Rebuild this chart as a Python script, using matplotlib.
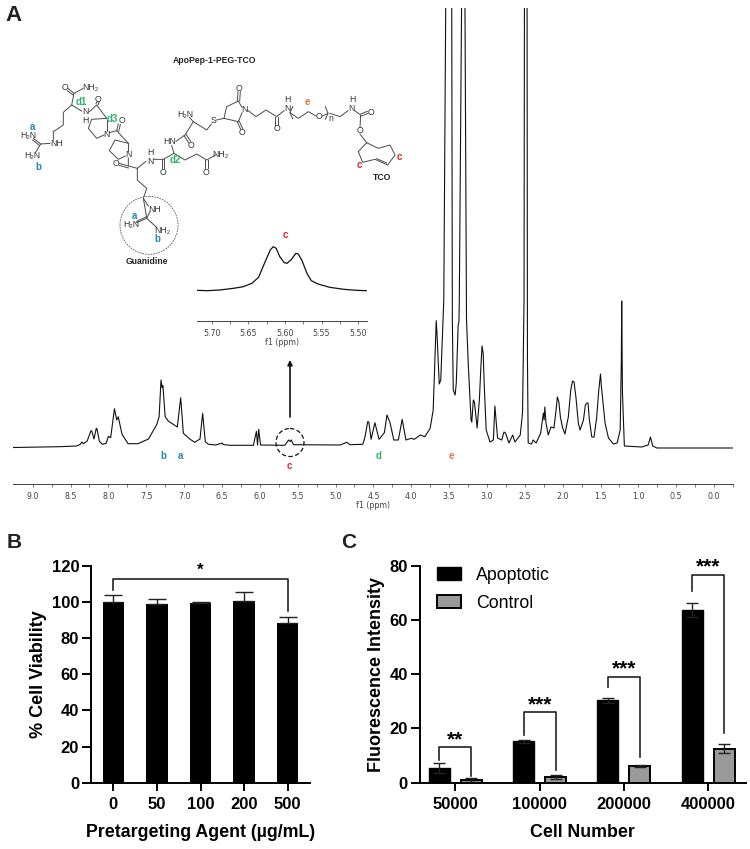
import numpy as np
import matplotlib
matplotlib.use("Agg")
import matplotlib.pyplot as plt
from matplotlib.patches import Circle

W, H = 750, 849

# main 1H NMR trace (ppm, height above the axis in px)
nmr_ppm = [9.26, 8.64, 8.42, 8.37, 8.35, 8.33, 8.28, 8.23, 8.22, 8.19, 8.16, 8.15, 8.12, 8.08, 8.03, 8.00, 7.97,
           7.92, 7.89, 7.87, 7.82, 7.74, 7.61, 7.47, 7.36, 7.33, 7.305, 7.29, 7.28, 7.25, 7.21, 7.09, 7.045, 7.01,
           6.92, 6.86, 6.79, 6.755, 6.72, 6.68, 6.58, 6.495, 6.485, 6.39, 6.085, 6.045, 6.03, 6.015, 5.99, 5.67,
           5.62, 5.60, 5.585, 5.555, 4.94, 4.85, 4.81, 4.64, 4.61, 4.575, 4.56, 4.53, 4.48, 4.425, 4.355, 4.32,
           4.28, 4.23, 4.17, 4.12, 4.07, 4.00, 3.96, 3.88, 3.82, 3.75, 3.71, 3.67, 3.66, 3.63, 3.61, 3.57, 3.545,
           3.505, 3.465, 3.457, 3.445, 3.42, 3.405, 3.38, 3.37, 3.365, 3.335, 3.315, 3.29, 3.27, 3.245, 3.21, 3.20,
           3.18, 3.165, 3.13, 3.10, 3.08, 3.065, 3.05, 3.035, 3.01, 2.96, 2.915, 2.895, 2.88, 2.86, 2.805, 2.775, 2.755, 2.71,
           2.66, 2.63, 2.56, 2.53, 2.51, 2.505, 2.49, 2.47, 2.465, 2.455, 2.41, 2.39, 2.35, 2.29, 2.255, 2.245,
           2.235, 2.22, 2.19, 2.155, 2.115, 2.087, 2.07, 2.05, 2.03, 2.00, 1.97, 1.925, 1.893, 1.87, 1.85, 1.823, 1.793,
           1.77, 1.725, 1.70, 1.68, 1.665, 1.647, 1.615, 1.585,
           1.55, 1.523, 1.50, 1.49, 1.47, 1.44, 1.395, 1.33, 1.28, 1.24, 1.225, 1.22, 1.21, 1.185, 0.955, 0.87, 0.84, 0.81, 0.755,
           0.58, -0.25]
nmr_height = [36.5, 37.3, 38, 39.7, 42, 40.3, 43, 53.3, 53, 45, 55.7, 55, 43, 39.7, 40.7, 47.7, 46.3,
              75.3, 64, 67.3, 49.7, 40.3, 40.3, 45, 59.7, 67.3, 104, 96.3, 98.3, 67.3, 63, 57, 86.3, 50.7,
              44.7, 41.7, 45, 70.7, 42.3, 39.7, 39, 41, 39.5, 38.7, 38.7, 52.7, 39, 54.7, 39, 38.7,
              44, 42.5, 44, 39.3, 39, 41.7, 39.3, 39.7, 47.3, 62.3, 62, 44.7, 61.3, 44.7, 51.3, 69,
              61.3, 44, 44, 64.7, 44, 45.7, 44.7, 49, 47.3, 55.7, 74, 163.3, 150.7, 100, 104, 184, 476,
              800, 476, 164, 94, 89, 101, 159, 162, 184, 476, 800, 476, 164, 117, 64, 62,
              84, 82, 56, 84, 117, 138, 131, 97, 54, 42, 44, 78, 64, 46, 44, 52, 51, 41,
              49, 42, 49, 71, 184, 476, 1000, 476, 124, 41, 40, 44, 41, 51, 71, 64,
              77, 61, 49, 57, 56, 74, 87, 82, 67, 56, 50, 67, 94, 103, 102, 85.7, 61,
              54, 64, 79, 81, 81, 64, 47, 47,
              67, 94, 110, 99, 84, 61, 46, 40, 41, 54, 124, 183, 91, 38, 37, 39, 47, 38, 36,
              36, 36]

# inset, the c multiplet
inset_ppm = [5.72, 5.707, 5.689, 5.670, 5.657, 5.645, 5.636, 5.627, 5.620, 5.616, 5.612, 5.607, 5.601, 5.597,
             5.591, 5.585, 5.582, 5.577, 5.570, 5.564, 5.555, 5.539, 5.520, 5.502, 5.489]
inset_height = [30.7, 30.3, 31, 32.7, 34.3, 37.7, 43.7, 59.3, 71, 74.3, 72.7, 64.3, 58.3, 57.7,
                61.7, 67.7, 67, 61, 47.7, 40.3, 37, 33.7, 31.7, 30.7, 30.3]

# panel B
doses = ["0", "50", "100", "200", "500"]
viability = [100, 99, 99.5, 100.7, 88.3]
viability_err = [3.7, 2.5, 0.5, 4.8, 3.2]

# panel C
cell_numbers = ["50000", "100000", "200000", "400000"]
apoptotic = [5.5, 15.3, 30.4, 63.7]
apoptotic_err = [1.8, 0.5, 0.9, 2.7]
control = [1.0, 2.1, 6.3, 12.6]
control_err = [0.7, 0.9, 0.4, 1.6]
sig_labels = ["**", "***", "***", "***"]
bracket_top = [13.3, 26.1, 39.1, 76.6]
bracket_left = [8.4, 17.6, 35.4, 70.8]
bracket_right = [2.3, 4.7, 9.6, 18.3]
star_y = [15.8, 28.6, 41.9, 79.5]

BLUE = "#1b8db5"
GREEN = "#2fb36a"
RED = "#e8202a"
ORANGE = "#e8763a"
BOND = "#4a4a4a"

plt.rcParams["font.family"] = ["Liberation Sans", "DejaVu Sans"]

fig = plt.figure(figsize=(W / 100, H / 100), dpi=100)


def axes_px(x0, y0, x1, y1):
    return fig.add_axes([x0 / W, 1 - y1 / H, (x1 - x0) / W, (y1 - y0) / H])


def style_nmr(ax, major, minor, labels_fmt):
    for s in ["top", "left", "right"]:
        ax.spines[s].set_visible(False)
    ax.spines["bottom"].set_linewidth(0.7)
    ax.spines["bottom"].set_color("#444444")
    ax.patch.set_alpha(0)
    ax.set_yticks([])
    ax.set_xticks(major)
    ax.set_xticklabels([labels_fmt % m for m in major], family="DejaVu Sans", fontsize=5.7, color="#444444")
    ax.set_xticks(minor, minor=True)
    ax.tick_params(axis="x", which="both", length=2, width=0.5, color="#444444", pad=3.5)


# spectrum
ax_nmr = axes_px(13, 8, 733, 484)
ax_nmr.plot(nmr_ppm, nmr_height, color="#111111", lw=0.8, solid_joinstyle="round")
ax_nmr.set_xlim(9.26, -0.25)
ax_nmr.set_ylim(0, 476)
style_nmr(ax_nmr, np.arange(9.0, -0.1, -0.5), np.arange(9.0, -0.3, -0.25), "%.1f")

# inset
ax_ins = axes_px(197, 221, 367, 321)
ax_ins.plot(inset_ppm, inset_height, color="#111111", lw=0.9)
ax_ins.set_xlim(5.72, 5.488)
ax_ins.set_ylim(0, 100)
style_nmr(ax_ins, [5.70, 5.65, 5.60, 5.55, 5.50], np.arange(5.70, 5.49, -0.025), "%.2f")

# panel B
ax_b = axes_px(91, 565.7, 310, 782.7)
xb = np.arange(len(doses))
ax_b.bar(xb, viability, width=0.49, color="black")
ax_b.errorbar(xb, viability, yerr=[np.zeros(len(doses)), viability_err], fmt="none",
              ecolor="#222222", elinewidth=1, capsize=6.5, capthick=1)
ax_b.plot([0, 0, 4, 4], [106.5, 112.5, 112.5, 95], color="#222222", lw=1.2, clip_on=False)
ax_b.text(2, 113.5, "*", ha="center", va="bottom", fontsize=12, fontweight="bold")
ax_b.set_xlim(-0.514, 4.51)
ax_b.set_ylim(0, 120)
ax_b.set_yticks(range(0, 121, 20))
ax_b.set_xticks(xb)
ax_b.set_xticklabels(doses)
ax_b.set_xlabel("Pretargeting Agent (µg/mL)", fontsize=12.8, fontweight="bold", labelpad=9)
ax_b.set_ylabel("% Cell Viability", fontsize=13, fontweight="bold", labelpad=3)

# panel C
ax_c = axes_px(419.6, 565.7, 745.5, 782.7)
xc = np.arange(len(cell_numbers))
offset = 0.19
bars_a = ax_c.bar(xc - offset, apoptotic, width=0.25, color="black", edgecolor="black", label="Apoptotic")
bars_c = ax_c.bar(xc + offset, control, width=0.25, color="#9a9a9a", edgecolor="black", linewidth=1.4, label="Control")
ax_c.errorbar(xc - offset, apoptotic, yerr=apoptotic_err, fmt="none", ecolor="#222222",
              elinewidth=1, capsize=4, capthick=1)
ax_c.errorbar(xc + offset, control, yerr=control_err, fmt="none", ecolor="#222222",
              elinewidth=1, capsize=4.5, capthick=1)
for i in xc:
    ax_c.plot([i - offset, i - offset, i + offset, i + offset],
              [bracket_left[i], bracket_top[i], bracket_top[i], bracket_right[i]],
              color="#222222", lw=1.2, clip_on=False)
    ax_c.text(i, star_y[i], sig_labels[i], ha="center", va="center", fontsize=15, fontweight="bold", clip_on=False)
ax_c.set_xlim(-0.426, 3.444)
ax_c.set_ylim(0, 80)
ax_c.set_yticks(range(0, 81, 20))
ax_c.set_xticks(xc)
ax_c.set_xticklabels(cell_numbers)
ax_c.set_xlabel("Cell Number", fontsize=12.8, fontweight="bold", labelpad=9)
ax_c.set_ylabel("Fluorescence Intensity", fontsize=13, fontweight="bold", labelpad=3)
ax_c.legend(handles=[bars_a, bars_c], loc="upper left", bbox_to_anchor=(0.053, 0.995), frameon=False,
            fontsize=12.8, handlelength=1.38, handleheight=0.7, handletextpad=0.84, labelspacing=0.62,
            borderaxespad=0, borderpad=0)

for ax in (ax_b, ax_c):
    ax.spines["top"].set_visible(False)
    ax.spines["right"].set_visible(False)
    ax.spines["left"].set_linewidth(1.4)
    ax.spines["bottom"].set_linewidth(1.4)
    ax.patch.set_alpha(0)
    ax.tick_params(axis="x", length=6, width=1.4, pad=4, labelsize=12)
    ax.tick_params(axis="y", length=6.5, width=1.4, pad=2, labelsize=12)
    for t in ax.get_xticklabels() + ax.get_yticklabels():
        t.set_fontweight("bold")

# overlay in picture pixels for the drawn structure and annotations
ov = fig.add_axes([0, 0, 1, 1], zorder=10)
ov.set_xlim(0, W)
ov.set_ylim(H, 0)
ov.axis("off")

# skeleton of the molecule, traced at 3x scale
bonds = [
    [(205, 266), (222, 280), (248, 266)], [(202, 272), (219, 285)], [(222, 280), (215, 315), (245, 333)],
    [(215, 315), (190, 337), (190, 375), (160, 395), (160, 420)], [(150, 430), (122, 432), (100, 415)],
    [(118, 436), (98, 420)], [(122, 432), (108, 455)],
    [(268, 335), (290, 315), (320, 355)], [(288, 310), (293, 304)], [(294, 314), (298, 306)],
    [(320, 355), (275, 358), (265, 385), (290, 415), (312, 405)], [(320, 360), (320, 392)],
    [(328, 398), (350, 392), (385, 430)], [(350, 392), (355, 372)], [(356, 394), (361, 374)],
    [(385, 430), (345, 420), (328, 452), (355, 478), (376, 468)], [(385, 430), (385, 452)],
    [(385, 474), (385, 498), (358, 490)], [(385, 504), (358, 496)], [(385, 498), (412, 505), (438, 484)],
    [(412, 505), (412, 540), (440, 565), (430, 595), (445, 618)],
    [(462, 478), (490, 478), (522, 460), (515, 437)], [(486, 478), (486, 505)], [(493, 478), (493, 505)],
    [(522, 460), (555, 480), (590, 462), (620, 480), (648, 464)], [(616, 480), (616, 505)], [(623, 480), (623, 505)],
    [(528, 424), (555, 405), (580, 365), (568, 352)], [(552, 407), (566, 428)], [(558, 403), (572, 424)],
    [(580, 365), (620, 390), (634, 372)], [(650, 360), (672, 355)],
    [(672, 355), (680, 320), (715, 303), (726, 322)], [(672, 355), (715, 365), (726, 338)],
    [(712, 303), (714, 275)], [(719, 303), (721, 275)], [(712, 366), (722, 388)], [(718, 364), (728, 386)],
    [(742, 330), (768, 350), (798, 330), (830, 350), (852, 332)], [(826, 350), (826, 376)], [(833, 350), (833, 376)],
    [(870, 338), (895, 355), (925, 335), (948, 348)], [(968, 348), (984, 340)],
    [(990, 340), (1020, 350), (1044, 332)], [(1064, 332), (1082, 345), (1080, 382)],
    [(1082, 342), (1102, 334)], [(1084, 348), (1104, 340)],
    [(1080, 402), (1100, 428), (1135, 445), (1170, 435), (1185, 465), (1163, 495), (1125, 478),
     (1088, 487), (1075, 455), (1100, 428)], [(1160, 489), (1130, 476)],
    [(430, 595), (440, 652)], [(450, 635), (440, 655), (410, 668)], [(438, 651), (410, 664)], [(440, 655), (470, 682)],
    [(878, 320), (870, 338), (878, 356)], [(976, 320), (984, 340), (976, 358)],
]
for b in bonds:
    pts = np.array(b) / 3
    ov.plot(pts[:, 0], pts[:, 1], color=BOND, lw=0.7)

atoms = [("O", 195, 262), ("NH₂", 272, 262), ("N", 257, 334), ("H", 257, 360), ("O", 295, 298), ("H₂N", 85, 405),
         ("NH", 170, 430), ("H₂N", 98, 467), ("O", 366, 360), ("N", 320, 402), ("N", 385, 463), ("O", 348, 490),
         ("N", 452, 484), ("H", 450, 456), ("NH", 465, 627), ("H₂N", 395, 672), ("NH₂", 488, 690), ("O", 490, 516),
         ("HN", 510, 423), ("O", 573, 436), ("H₂N", 555, 342), ("S", 641, 360), ("O", 618, 516), ("NH₂", 662, 462),
         ("O", 718, 265), ("O", 727, 397), ("N", 733, 328), ("O", 830, 386), ("H", 862, 298), ("N", 862, 326),
         ("O", 958, 348), ("n", 993, 355), ("H", 1058, 298), ("N", 1055, 326), ("O", 1112, 338), ("O", 1080, 392)]
for s, x, y in atoms:
    ov.text(x / 3, y / 3, s, ha="center", va="center", fontsize=6.3, color="#333333")

peak_tags = [("a", 97, 380, BLUE), ("b", 114, 500, BLUE), ("d1", 243, 306, GREEN), ("d3", 336, 358, GREEN),
             ("d2", 527, 480, GREEN), ("a", 402, 648, BLUE), ("b", 472, 716, BLUE), ("e", 921, 305, ORANGE),
             ("c", 1078, 495, RED), ("c", 1199, 470, RED), ("c", 856, 705, RED)]
for s, x, y, c in peak_tags:
    ov.text(x / 3, y / 3, s, ha="center", va="center", fontsize=7, fontweight="bold", color=c)

ov.text(215, 60.3, "ApoPep-1-PEG-TCO", ha="center", va="center", fontsize=6.2, fontweight="bold", color="#222222")
ov.text(147.3, 262, "Guanidine", ha="center", va="center", fontsize=6.2, fontweight="bold", color="#222222")
ov.text(381.7, 177.3, "TCO", ha="center", va="center", fontsize=6.2, fontweight="bold", color="#222222")
ov.add_patch(Circle((149, 225.3), 29, fill=False, ec="#555555", lw=0.6, ls=(0, (2, 1.2))))

# spectrum annotations
ov.text(163.5, 456, "b", ha="center", va="center", fontsize=7, fontweight="bold", color=BLUE)
ov.text(180, 456, "a", ha="center", va="center", fontsize=7, fontweight="bold", color=BLUE)
ov.text(289.5, 466, "c", ha="center", va="center", fontsize=7, fontweight="bold", color=RED)
ov.text(379, 456, "d", ha="center", va="center", fontsize=7, fontweight="bold", color=GREEN)
ov.text(451.5, 456, "e", ha="center", va="center", fontsize=7, fontweight="bold", color=ORANGE)
ov.text(373, 505, "f1 (ppm)", ha="center", va="center", fontsize=5.7, family="DejaVu Sans", color="#444444")
ov.text(281.7, 342, "f1 (ppm)", ha="center", va="center", fontsize=5.7, family="DejaVu Sans", color="#444444")
ov.add_patch(Circle((290, 442.5), 14, fill=False, ec="#111111", lw=0.9, ls=(0, (3.5, 2))))
ov.annotate("", xy=(290, 360), xytext=(290, 417),
            arrowprops=dict(arrowstyle="-|>", color="#111111", lw=1.2, mutation_scale=7, shrinkA=0, shrinkB=0))

# panel letters
ov.text(14, 15, "A", ha="center", va="center", fontsize=16, fontweight="bold", color="#222222")
ov.text(14, 542, "B", ha="center", va="center", fontsize=15, fontweight="bold", color="#222222")
ov.text(349, 542, "C", ha="center", va="center", fontsize=15, fontweight="bold", color="#222222")

fig.savefig("out.png", dpi=100)
